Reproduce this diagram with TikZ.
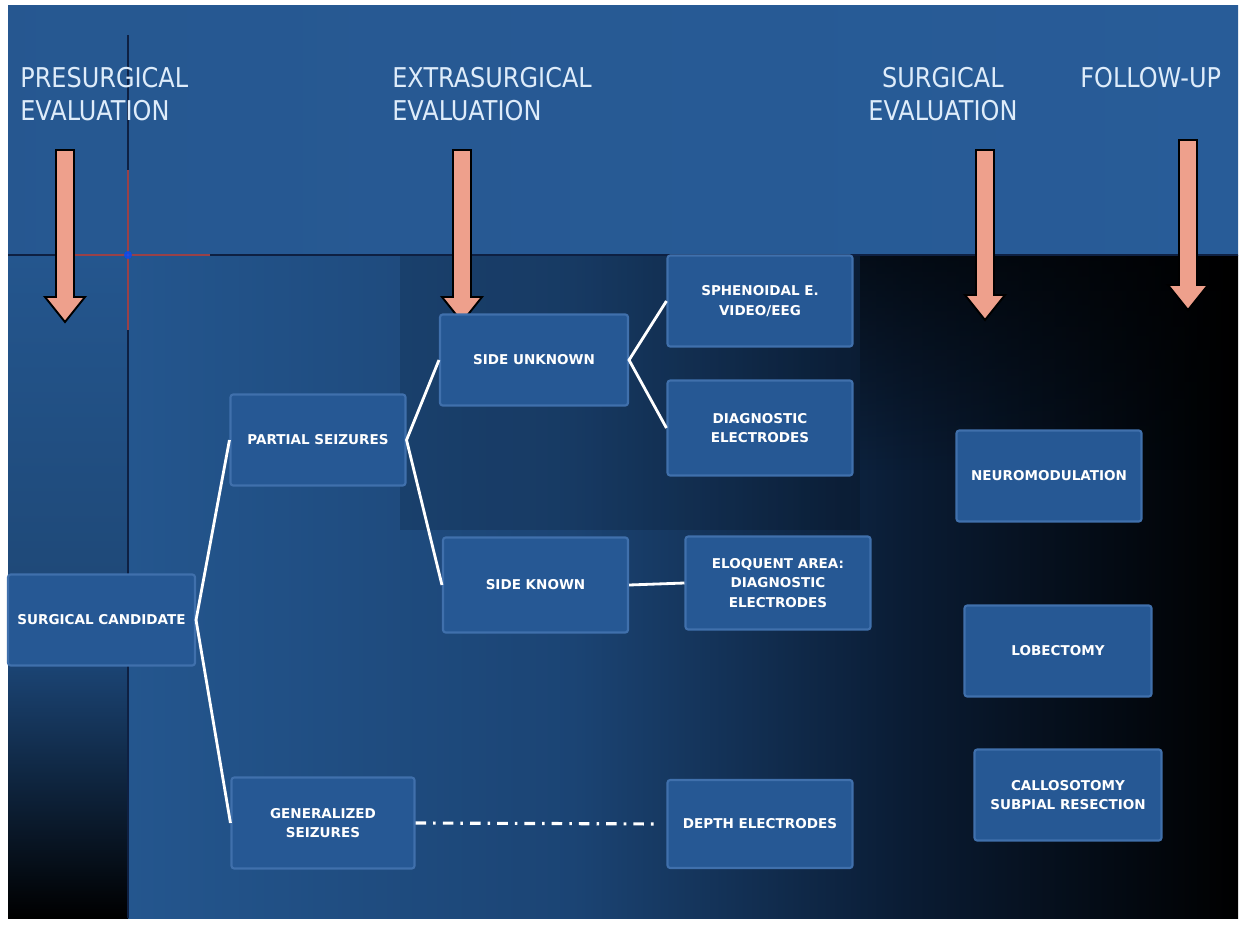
\documentclass[tikz,border=0pt]{standalone}
\usepackage{fontspec}
\setmainfont{DejaVu Sans}
\newfontfamily\headfont[FakeStretch=0.88]{DejaVu Sans}
\usetikzlibrary{positioning,fadings}
\definecolor{topblue}{RGB}{40,92,152}
\definecolor{lowblue}{RGB}{36,86,142}
\definecolor{midblue}{RGB}{27,68,116}
\definecolor{deepblue}{RGB}{10,28,52}
\definecolor{boxfill}{RGB}{38,88,148}
\definecolor{boxedge}{RGB}{64,112,172}
\definecolor{salmon}{RGB}{238,160,140}
\definecolor{gridnavy}{RGB}{14,32,66}
\definecolor{headtext}{RGB}{222,236,250}

\pgfdeclarehorizontalshading{lowshade}{100bp}{color(0bp)=(lowblue); color(25bp)=(lowblue);
  color(45bp)=(midblue); color(60bp)=(deepblue); color(75bp)=(black); color(100bp)=(black)}

\tikzset{
  evalbox/.style={rectangle, fill=boxfill, draw=boxedge, line width=1.2pt,
    rounded corners=1.5pt, minimum width=3.7cm, minimum height=1.82cm,
    align=center, text=white, font=\fontsize{7.7}{11.3}\selectfont\bfseries},
  headline/.style={inner sep=0pt, text=headtext, anchor=north west,
    align=left, font=\fontsize{15.5}{18.7}\headfont},
  branch/.style={draw=white, line width=1.6pt},
  chain/.style={draw=white, line width=1.8pt,
    dash pattern=on 6pt off 4pt on 1.5pt off 4pt}
}

% block arrow: x, top, tip
\newcommand\evalarrow[3]{%
  \filldraw[fill=salmon, draw=black, line width=1.1pt]
    (#1-9,#2) -- (#1+9,#2) -- (#1+9,#3-25) -- (#1+20,#3-25) -- (#1,#3)
    -- (#1-20,#3-25) -- (#1-9,#3-25) -- cycle;}

\begin{document}
\begin{tikzpicture}[x=0.02cm, y=-0.02cm]
  \useasboundingbox (0,0) rectangle (1245,927);
  \fill[white] (0,0) rectangle (1245,927);

  % backgrounds
  \shade[left color=topblue!95!black, right color=topblue] (8,5) rectangle (1238,255);
  \shade[shading=lowshade] (128,255) rectangle (1238,918);
  \fill[black, opacity=0.14] (400,255) rectangle (860,530);
  \fill[black, opacity=0.6, path fading=south] (860,255) rectangle (1238,470);
  \shade[top color=lowblue, bottom color=lowblue!85!black] (8,255) rectangle (128,575);
  \shade[top color=midblue, bottom color=black] (8,665) rectangle (128,918);
  \draw[gridnavy, line width=1.6pt] (8,255) -- (1238,255);
  \draw[gridnavy, line width=1.2pt] (128,35) -- (128,918);
  \draw[red!45!salmon, opacity=0.6, line width=1.2pt] (128,170) -- (128,330);
  \draw[red!45!salmon, opacity=0.6, line width=1.2pt] (60,255) -- (210,255);
  \fill[blue!70!cyan, opacity=0.8] (128,255) circle (4);

  % column titles
  \node[headline] (presurg) at (20,67) {PRESURGICAL\\EVALUATION};
  \node[headline] (extrasurg) at (392,67) {EXTRASURGICAL\\EVALUATION};
  \node[headline, align=center] (surg) at (868,67) {SURGICAL\\EVALUATION};
  \node[headline] (followup) at (1080,67) {FOLLOW-UP};

  \evalarrow{65}{150}{322}
  \evalarrow{462}{150}{322}
  \evalarrow{985}{150}{320}
  \evalarrow{1188}{140}{310}

  % boxes
  \node[evalbox, minimum width=3.74cm] (candidate) at (101.5,620) {SURGICAL CANDIDATE};
  \node[evalbox, minimum width=3.5cm] (partial) at (318,440) {PARTIAL SEIZURES};
  \node[evalbox, minimum width=3.66cm] (general) at (323,823) {GENERALIZED\\SEIZURES};
  \node[evalbox, minimum width=3.76cm] (sideunk) at (534,360) {SIDE UNKNOWN};
  \node[evalbox, minimum height=1.9cm] (sideknown) at (535.5,585) {SIDE KNOWN};
  \node[evalbox] (spheno) at (760,301) {SPHENOIDAL E.\\VIDEO/EEG};
  \node[evalbox, minimum height=1.9cm] (diag) at (760,428) {DIAGNOSTIC\\ELECTRODES};
  \node[evalbox, minimum height=1.86cm] (eloquent) at (778,583) {ELOQUENT AREA:\\DIAGNOSTIC\\ELECTRODES};
  \node[evalbox, minimum height=1.76cm] (depth) at (760,824) {DEPTH ELECTRODES};
  \node[evalbox] (neuro) at (1049,476) {NEUROMODULATION};
  \node[evalbox, minimum width=3.74cm] (lobect) at (1058,651) {LOBECTOMY};
  \node[evalbox, minimum width=3.74cm] (callo) at (1068,795) {CALLOSOTOMY\\SUBPIAL RESECTION};

  % branches
  \draw[branch] (partial.west) -- (candidate.east) -- (general.west);
  \draw[branch] (sideunk.west) -- (partial.east) -- (sideknown.west);
  \draw[branch] (spheno.west) -- (sideunk.east) -- (diag.west);
  \draw[branch] (sideknown.east) -- (eloquent.west);
  \draw[chain, shorten >=7] (general.east) -- (depth.west);

\end{tikzpicture}
\end{document}
